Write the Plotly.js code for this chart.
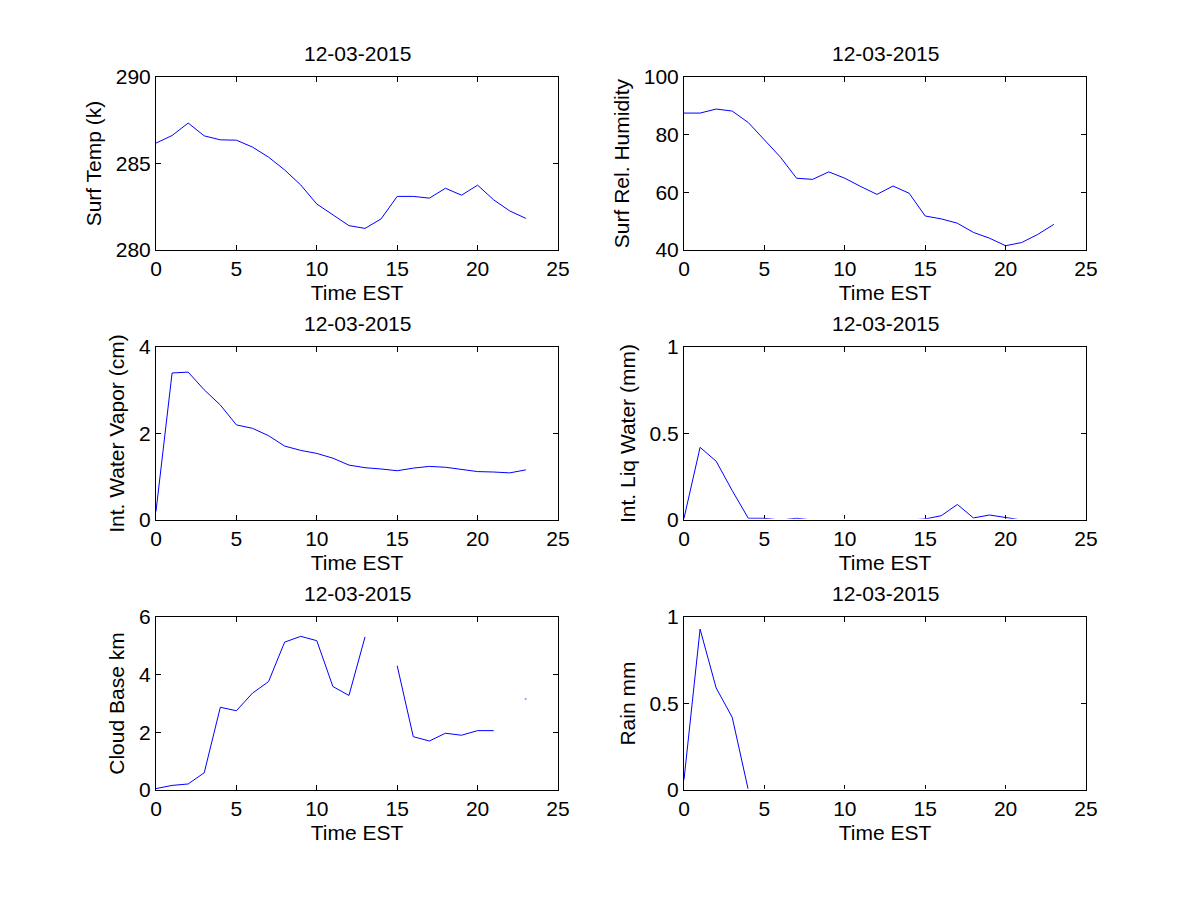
<!DOCTYPE html>
<html>
<head>
<meta charset="utf-8">
<script src="https://cdn.plot.ly/plotly-3.0.1.min.js"></script>
<style>
  html, body { margin: 0; padding: 0; background: #fff; }
  #chart { width: 1200px; height: 900px; }
</style>
</head>
<body>
<div id="chart"></div>
<script>
// ---- Data ----
const hours = [0,1,2,3,4,5,6,7,8,9,10,11,12,13,14,15,16,17,18,19,20,21,22,23];

const surfTemp = [286.18,286.62,287.34,286.6,286.37,286.35,285.95,285.37,284.63,283.76,282.66,282.03,281.41,281.25,281.8,283.1,283.1,283.0,283.57,283.17,283.75,282.9,282.26,281.83];

const surfRH = [87.5,87.5,88.9,88.2,84.2,78.2,72.2,64.9,64.5,67.1,64.9,62.0,59.3,62.2,59.7,51.8,50.8,49.3,46.1,44.1,41.5,42.6,45.4,48.9];

const waterVapor = [0.2,3.40,3.42,3.01,2.66,2.20,2.12,1.95,1.71,1.61,1.54,1.43,1.27,1.21,1.18,1.14,1.20,1.24,1.22,1.17,1.12,1.11,1.09,1.16];

const liqWater = [0.01,0.42,0.34,0.17,0.01,0.01,0.0,0.01,0.0,0.0,0.0,0.0,0.0,0.0,0.0,0.006,0.025,0.09,0.012,0.029,0.015,0.0,0.0,0.0];

const cloudBase = [0.05,0.16,0.21,0.60,2.87,2.75,3.36,3.76,5.13,5.33,5.18,3.59,3.28,5.31,null,4.31,1.85,1.70,1.97,1.90,2.06,2.06,null,3.16];

const rain = [0.06,0.93,0.59,0.42,0,0,0,0,0,0,0,0,0,0,0,0,0,0,0,0,0,0,0,0];

const dateLabel = '12-03-2015';
const xTitle = 'Time EST';
const yTitles = ['Surf Temp (k)','Surf Rel. Humidity','Int. Water Vapor (cm)','Int. Liq Water (mm)','Cloud Base km','Rain mm'];
const yRanges = [[280,290],[40,100],[0,4],[0,1],[0,6],[0,1]];
const yDticks = [5,20,2,0.5,2,0.5];
const xTickVals = [0,5,10,15,20,25];
// panels whose zero-valued stretches lie under the x axis line (hidden, as in the original)
const hideZeroPanels = [3, 5];

// ---- Layout geometry ----
const colDomains = [[0.13,0.465],[0.57,0.905]];
const rowDomains = [[0.7222,0.9144],[0.4222,0.6144],[0.1222,0.3144]];

const series = [surfTemp, surfRH, waterVapor, liqWater, cloudBase, rain];
const FONT = 'Liberation Sans, Arial, Helvetica, sans-serif';
const FS = 21;

const traces = [];
const layout = {
  width: 1200, height: 900,
  paper_bgcolor: '#ffffff', plot_bgcolor: '#ffffff',
  margin: {l:0, r:0, t:0, b:0},
  showlegend: false,
  font: {family: FONT, size: FS, color: '#000'},
  annotations: [],
  shapes: []
};

series.forEach((ys, i) => {
  const row = Math.floor(i / 2), col = i % 2;
  const n = i + 1;
  const xa = 'x' + (n === 1 ? '' : n), ya = 'y' + (n === 1 ? '' : n);
  // isolated points (neighbours missing) get a small dot, like MATLAB
  const sizes = ys.map((v, k) => (v !== null && (k === 0 || ys[k-1] === null) && (k === ys.length-1 || ys[k+1] === null)) ? 2.5 : 0);
  traces.push({
    x: hours, y: ys, type: 'scatter', mode: 'lines+markers',
    xaxis: xa, yaxis: ya, connectgaps: false,
    line: {color: '#0000ff', width: 1},
    marker: {color: '#0000ff', size: sizes},
    hoverinfo: 'skip'
  });
  const axCommon = {
    showline: true, linecolor: '#000', linewidth: 1, mirror: 'ticks',
    ticks: 'inside', ticklen: 5, tickcolor: '#000', showgrid: false, zeroline: false,
    layer: 'above traces',
    tickfont: {family: FONT, size: FS, color: '#000'}
  };
  layout['xaxis' + (n === 1 ? '' : n)] = Object.assign({}, axCommon, {
    domain: colDomains[col], anchor: ya, range: [0,25],
    tickmode: 'array', tickvals: xTickVals, ticktext: xTickVals.map(String),
    title: {text: xTitle, font: {family: FONT, size: FS, color: '#000'}, standoff: 6}
  });
  layout['yaxis' + (n === 1 ? '' : n)] = Object.assign({}, axCommon, {
    domain: rowDomains[row], anchor: xa, range: yRanges[i],
    tickmode: 'linear', tick0: yRanges[i][0], dtick: yDticks[i],
    title: {text: yTitles[i], font: {family: FONT, size: FS, color: '#000'}, standoff: 8}
  });
  layout.annotations.push({
    text: dateLabel, xref: 'paper', yref: 'paper',
    x: (colDomains[col][0] + colDomains[col][1]) / 2, y: rowDomains[row][1],
    xanchor: 'center', yanchor: 'bottom', yshift: 10, showarrow: false,
    font: {family: FONT, size: FS, color: '#000'}
  });
  if (hideZeroPanels.includes(i)) {
    layout.shapes.push({
      type: 'rect', xref: xa, yref: ya, x0: 0.15, x1: 25,
      ysizemode: 'pixel', yanchor: yRanges[i][0], y0: 0, y1: 1.2,
      fillcolor: '#ffffff', line: {width: 0}, layer: 'above'
    });
  }
});

Plotly.newPlot('chart', traces, layout, {staticPlot: true});
</script>
</body>
</html>
